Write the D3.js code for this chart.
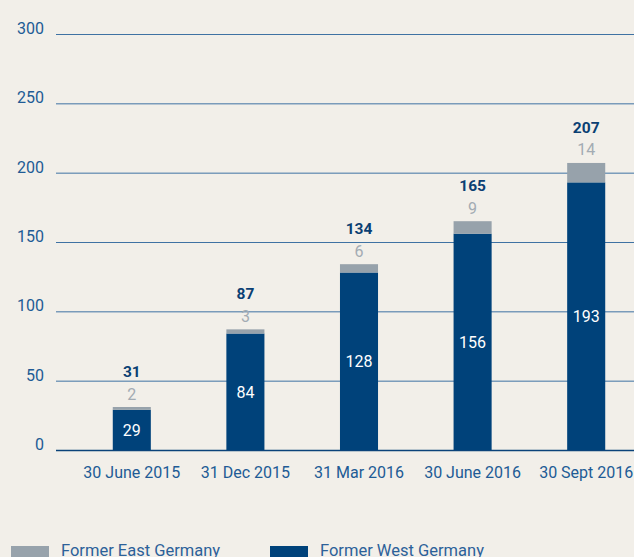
<!DOCTYPE html>
<html>
<head>
<meta charset="utf-8">
<script src="https://cdn.jsdelivr.net/npm/d3@7"></script>
<style>
  body { margin: 0; background: #f2efe9; }
  svg { display: block; font-family: Roboto, sans-serif; }
</style>
</head>
<body>
<script>
'use strict';

const categories = ['30 June 2015', '31 Dec 2015', '31 Mar 2016', '30 June 2016', '30 Sept 2016'];
const westValues = [29, 84, 128, 156, 193];
const eastValues = [2, 3, 6, 9, 14];
const totals = [31, 87, 134, 165, 207];
const yTicks = [0, 50, 100, 150, 200, 250, 300];

const width = 634, height = 557;
const navy = '#00427a', grey = '#97a2ab';

const svg = d3.select('body').append('svg')
  .attr('width', width).attr('height', height);

const y = d3.scaleLinear().domain([0, 300]).range([450, 34]);
const x = d3.scaleBand().domain(categories)
  .range([75, 643]).paddingInner(0.665).paddingOuter(0.3325);

// gridlines + y labels
const grid = svg.append('g');
grid.selectAll('line').data(yTicks).enter().append('line')
  .attr('x1', 56).attr('x2', width)
  .attr('y1', (d) => y(d) + 0.5).attr('y2', (d) => y(d) + 0.5)
  .attr('stroke', (d) => d === 0 ? '#0b4379' : '#3f72a3')
  .attr('stroke-width', (d) => d === 0 ? 1.5 : 1);
grid.selectAll('text').data(yTicks).enter().append('text')
  .attr('x', 44).attr('y', (d) => y(d))
  .attr('text-anchor', 'end')
  .attr('font-size', 16).attr('fill', '#215b95')
  .text((d) => d);

const rows = categories.map((c, i) => ({
  c, west: westValues[i], east: eastValues[i], total: totals[i]
}));

const bars = svg.append('g').selectAll('g').data(rows).enter().append('g');

bars.append('rect')
  .attr('x', (d) => x(d.c)).attr('width', x.bandwidth())
  .attr('y', (d) => y(d.west)).attr('height', (d) => y(0) - y(d.west))
  .attr('fill', navy);
bars.append('rect')
  .attr('x', (d) => x(d.c)).attr('width', x.bandwidth())
  .attr('y', (d) => y(d.west + d.east)).attr('height', (d) => y(d.west) - y(d.west + d.east))
  .attr('fill', grey);

const cx = (d) => x(d.c) + x.bandwidth() / 2;

bars.append('text')
  .attr('x', cx).attr('y', (d) => (y(0) + y(d.west)) / 2 + 6)
  .attr('text-anchor', 'middle').attr('font-size', 16).attr('fill', '#fff')
  .text((d) => d.west);
bars.append('text')
  .attr('x', cx).attr('y', (d) => y(d.west + d.east) - 7.5)
  .attr('text-anchor', 'middle').attr('font-size', 16).attr('fill', '#a3abb3')
  .text((d) => d.east);
bars.append('text')
  .attr('x', cx).attr('y', (d) => y(d.west + d.east) - 30)
  .attr('text-anchor', 'middle').attr('font-size', 15.5).attr('font-weight', 'bold')
  .attr('fill', '#0b3f73')
  .text((d) => d.total);

// x labels
svg.append('g').selectAll('text').data(categories).enter().append('text')
  .attr('x', (d) => x(d) + x.bandwidth() / 2).attr('y', 478)
  .attr('text-anchor', 'middle').attr('font-size', 16).attr('fill', '#215b95')
  .text((d) => d);

// legend (cut off at the bottom edge, as in the source)
const legend = [
  { label: 'Former East Germany', color: grey, x: 11 },
  { label: 'Former West Germany', color: navy, x: 270 }
];
const lg = svg.append('g').selectAll('g').data(legend).enter().append('g');
lg.append('rect')
  .attr('x', (d) => d.x).attr('y', 546).attr('width', 38).attr('height', 12)
  .attr('fill', (d) => d.color);
lg.append('text')
  .attr('x', (d) => d.x + 50).attr('y', 555.5)
  .attr('font-size', 16.5).attr('fill', '#2c6199')
  .text((d) => d.label);
</script>
</body>
</html>
